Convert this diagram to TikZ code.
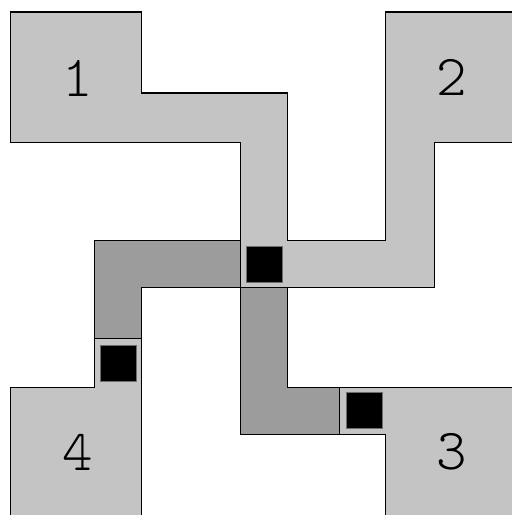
\documentclass[tikz,border=0pt]{standalone}
\usepackage{xcolor}
\usepackage{tikz}
\usetikzlibrary{positioning}
\definecolor{cellgray}{HTML}{C4C4C4}
\definecolor{wiregray}{HTML}{9C9C9C}
\definecolor{padedge}{HTML}{6E6E6E}

\begin{document}
\begin{tikzpicture}[x=1pt, y=-1pt,
    cell/.style={fill=cellgray, draw=black, line width=1.1pt, line join=miter},
    wire/.style={fill=wiregray, draw=black, line width=1.1pt, line join=miter},
    pad/.style={fill=black, draw=padedge, line width=0.6pt, minimum size=36pt, inner sep=0pt},
    digit/.style={font=\fontsize{58}{58}\ttfamily\fontseries{l}\selectfont, inner sep=0pt}]
  \useasboundingbox (0,0) rectangle (512,515);
  \clip (0,0) rectangle (512,515);
  \path[cell] (10.7,12) -- (141.3,12) -- (141.3,93) -- (287.3,93) -- (287.3,240.7)
    -- (385.7,240.7) -- (385.7,12) -- (530,12) -- (530,142.7) -- (434.7,142.7)
    -- (434.7,287.3) -- (240.7,287.3) -- (240.7,142.7) -- (10.7,142.7) -- cycle;
  \path[wire] (94.7,240.7) -- (240.7,240.7) -- (240.7,287.3) -- (141.3,287.3)
    -- (141.3,338.3) -- (94.7,338.3) -- cycle;
  \path[wire] (240.7,287.3) -- (287.3,287.3) -- (287.3,387.5) -- (339.3,387.5)
    -- (339.3,434.3) -- (240.7,434.3) -- cycle;
  \path[cell] (94.7,338.3) -- (141.3,338.3) -- (141.3,530) -- (10.7,530)
    -- (10.7,387.3) -- (94.7,387.3) -- cycle;
  \path[cell] (339.3,387.5) -- (530,387.5) -- (530,530) -- (385.7,530)
    -- (385.7,434.3) -- (339.3,434.3) -- cycle;
  \node[pad] (padmid) at (264.5,264.2) {};
  \node[pad] (padleft) at (118,363) {};
  \node[pad] (padright) at (363.8,410) {};
  \node[digit] (one) at (78,78) {1};
  \node[digit] (two) at (452,77) {2};
  \node[digit] (three) at (452,452) {3};
  \node[digit] (four) at (78,452) {4};
\end{tikzpicture}
\end{document}
